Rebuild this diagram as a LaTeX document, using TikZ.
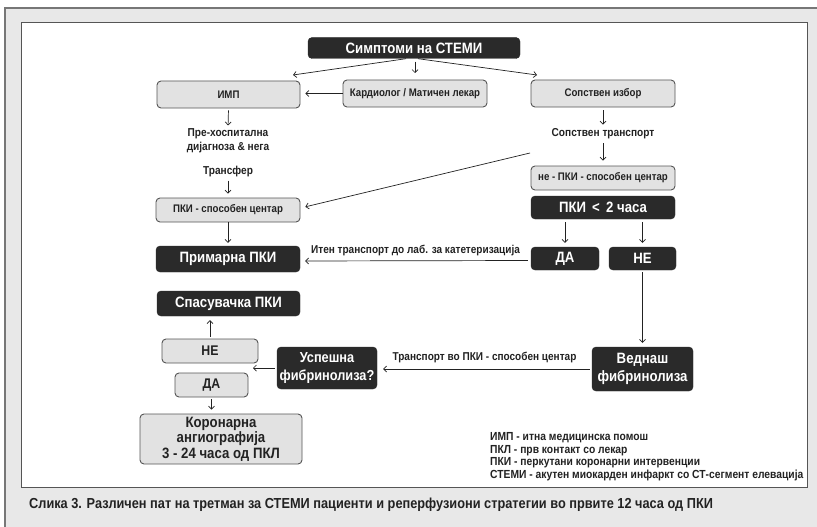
\documentclass[tikz,border=0pt]{standalone}
\usepackage{fontspec}
\setmainfont{Liberation Sans}[FakeStretch=0.88]
\usetikzlibrary{arrows.meta}
\definecolor{darkbox}{HTML}{2A2A2A}
\definecolor{lightbox}{HTML}{E2E2E2}
\definecolor{edge}{HTML}{555555}
\definecolor{ink}{HTML}{222222}
\definecolor{paper}{HTML}{E8E8E8}
\begin{document}
\begin{tikzpicture}[x=1pt,y=-1pt,
  lightnode/.style={draw=edge, line width=0.9pt, fill=lightbox, rounded corners=4pt, text=ink, font=\bfseries\fontsize{11}{13}\selectfont, inner sep=0pt, align=center},
  darknode/.style={draw=darkbox, fill=darkbox, rounded corners=4pt, text=white, font=\bfseries\fontsize{15}{17}\selectfont, inner sep=0pt, align=center},
  plain/.style={text=ink, font=\bfseries\fontsize{11.5}{13.5}\selectfont, align=center, inner sep=0pt},
  arr/.style={draw=ink, line width=0.7pt, -{Straight Barb[length=3pt,width=6pt]}},
  lbl/.style={text=ink, font=\bfseries\fontsize{11.4}{12}\selectfont, inner sep=0pt}
]
\useasboundingbox (0,0) rectangle (817,527);
% frame
\fill[white] (0,0) rectangle (817,527);
\fill[paper] (5,8) rectangle (817,527);
\draw[draw=edge!80, line width=1.2pt] (5,527) -- (5,8) -- (817,8);
\fill[white] (21,23) rectangle (807,487);
\draw[draw=edge, line width=1pt] (21,23) rectangle (807,487);

% nodes
\node[darknode, minimum width=212pt, minimum height=21pt] (symp) at (414,48) {Симптоми на СТЕМИ};
\node[lightnode, minimum width=143pt, minimum height=27pt] (imp) at (228.5,94.5) {ИМП};
\node[lightnode, minimum width=144pt, minimum height=27pt] (kard) at (415,93.5) {Кардиолог / Матичен лекар};
\node[lightnode, minimum width=144pt, minimum height=27pt] (sops) at (603,93.5) {Сопствен избор};
\node[plain] (preh) at (228,140.5) {Пре-хоспитална\\дијагноза \& нега};
\node[plain] (transf) at (228,172) {Трансфер};
\node[lightnode, minimum width=144pt, minimum height=24pt] (pkis) at (228,210) {ПКИ - способен центар};
\node[darknode, minimum width=144pt, minimum height=26pt] (prim) at (228,259) {Примарна ПКИ};
\node[plain] (sopt) at (603,134) {Сопствен транспорт};
\node[lightnode, minimum width=144pt, minimum height=24pt] (nepki) at (603,178) {не - ПКИ - способен центар};
\node[darknode, minimum width=144pt, minimum height=23pt] (pki2) at (603,207.5) {ПКИ \,<\, 2 часа};
\node[darknode, minimum width=68pt, minimum height=23pt] (da1) at (565,258.5) {ДА};
\node[darknode, minimum width=67pt, minimum height=23pt] (ne1) at (642.5,258.5) {НЕ};
\node[darknode, minimum width=101pt, minimum height=44pt, font=\bfseries\fontsize{15}{18}\selectfont] (vedn) at (642.5,369) {Веднаш\\фибринолиза};
\node[darknode, minimum width=100pt, minimum height=42pt, font=\bfseries\fontsize{14.5}{18}\selectfont] (usp) at (327,368) {Успешна\\фибринолиза?};
\node[lightnode, minimum width=96pt, minimum height=24pt, font=\bfseries\fontsize{14}{15}\selectfont] (ne2) at (210,351) {НЕ};
\node[lightnode, minimum width=73pt, minimum height=24pt, font=\bfseries\fontsize{14}{15}\selectfont] (da2) at (211.5,385) {ДА};
\node[darknode, minimum width=143pt, minimum height=25pt] (spas) at (228.5,303.5) {Спасувачка ПКИ};
\node[lightnode, minimum width=162pt, minimum height=50pt, font=\bfseries\fontsize{15}{15.5}\selectfont] (kor) at (221,439) {Коронарна\\ангиографија\\3 - 24 часа од ПКЛ};

\node[lbl, anchor=north west, align=left, font=\bfseries\fontsize{11.7}{12.8}\selectfont] (leg) at (490,432) {ИМП - итна медицинска помош\\ПКЛ - прв контакт со лекар\\ПКИ - перкутани коронарни интервенции\\СТЕМИ - акутен миокарден инфаркт со СТ-сегмент елевација};
\node[anchor=west, text=ink, inner sep=0pt, font=\bfseries\fontsize{14.5}{15}\selectfont] (cap) at (29,505) {Слика 3. Различен пат на третман за СТЕМИ пациенти и реперфузиони стратегии во првите 12 часа од ПКИ};

% free ends
\coordinate (tl) at (293,75);
\coordinate (tr) at (537,75);
\coordinate (tm) at (415,73);
\coordinate (diag) at (530,153);
\coordinate (uspend) at (253,368);

% connectors
\draw[arr] ([xshift=-8pt]symp.south) -- (tl);
\draw[arr] ([xshift=4pt]symp.south) -- (tr);
\draw[arr] ([yshift=-3pt]symp.south -| kard.north) -- (tm);
\draw[arr, shorten >=5pt] (kard.west) -- (imp.east |- kard.west);
\draw[arr, shorten <=2pt, shorten >=3pt] (imp.south) -- (preh.north);
\draw[arr, shorten <=3pt, shorten >=4pt] (transf.south) -- (pkis.north);
\draw[arr, shorten >=3pt] (pkis.south) -- (prim.north);
\draw[arr, shorten <=3pt, shorten >=4pt] (sops.south) -- (sopt.north);
\draw[arr, shorten <=4pt, shorten >=5pt] (sopt.south) -- (nepki.north);
\draw[arr, shorten >=5pt] (diag) -- ([yshift=2pt]pkis.east);
\draw[arr, shorten <=3pt, shorten >=4pt] (pki2.south -| da1.north) -- (da1.north);
\draw[arr, shorten <=3pt, shorten >=4pt] (pki2.south -| ne1.north) -- (ne1.north);
\draw[arr, shorten <=3pt, shorten >=5pt] ([yshift=-2pt]da1.west) -- ([yshift=-2pt]prim.east) node[lbl, midway, above=5pt] (lbl1) {Итен транспорт до лаб. за катетеризација};
\draw[arr, shorten <=2pt, shorten >=4pt] (ne1.south) -- (vedn.north);
\draw[arr, shorten <=2pt, shorten >=6pt] (vedn.west) -- (usp.east |- vedn.west) node[lbl, midway, above=6pt] (lbl2) {Транспорт во ПКИ - способен центар};
\draw[arr, shorten <=2pt] (usp.west) -- (uspend);
\draw[arr, shorten <=2pt, shorten >=4pt] (ne2.north) -- (spas.south -| ne2.north);
\draw[arr, shorten <=2pt, shorten >=4pt] (da2.south) -- (kor.north -| da2.south);
\end{tikzpicture}
\end{document}
